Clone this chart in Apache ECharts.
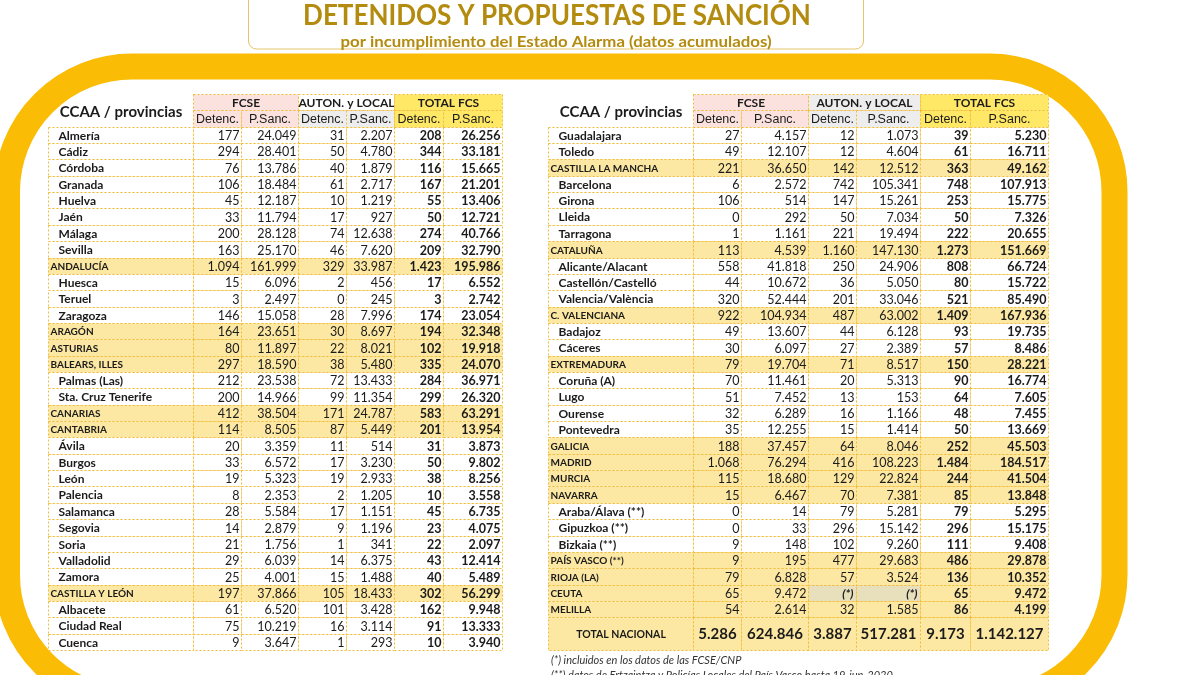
<!DOCTYPE html>
<html>
<head>
<meta charset="utf-8">
<title>Detenidos y propuestas de sanción</title>
<script src="https://cdn.jsdelivr.net/npm/echarts@6/dist/echarts.min.js"></script>
<style>
  html, body { margin: 0; background: #fff; }
  #main { width: 1200px; height: 675px; }
</style>
</head>
<body>
<div id="main"></div>
<script>
// ---- datos (tabla izquierda)
const leftNames = ['Almería', 'Cádiz', 'Córdoba', 'Granada', 'Huelva', 'Jaén', 'Málaga', 'Sevilla', 'ANDALUCÍA',
  'Huesca', 'Teruel', 'Zaragoza', 'ARAGÓN', 'ASTURIAS', 'BALEARS, ILLES', 'Palmas (Las)', 'Sta. Cruz Tenerife',
  'CANARIAS', 'CANTABRIA', 'Ávila', 'Burgos', 'León', 'Palencia', 'Salamanca', 'Segovia', 'Soria', 'Valladolid',
  'Zamora', 'CASTILLA Y LEÓN', 'Albacete', 'Ciudad Real', 'Cuenca'];
const leftFcseDet = [177, 294, 76, 106, 45, 33, 200, 163, 1094, 15, 3, 146, 164, 80, 297, 212, 200, 412, 114, 20, 33, 19, 8, 28, 14, 21, 29, 25, 197, 61, 75, 9];
const leftFcseSanc = [24049, 28401, 13786, 18484, 12187, 11794, 28128, 25170, 161999, 6096, 2497, 15058, 23651, 11897, 18590, 23538, 14966, 38504, 8505, 3359, 6572, 5323, 2353, 5584, 2879, 1756, 6039, 4001, 37866, 6520, 10219, 3647];
const leftAutDet = [31, 50, 40, 61, 10, 17, 74, 46, 329, 2, 0, 28, 30, 22, 38, 72, 99, 171, 87, 11, 17, 19, 2, 17, 9, 1, 14, 15, 105, 101, 16, 1];
const leftAutSanc = [2207, 4780, 1879, 2717, 1219, 927, 12638, 7620, 33987, 456, 245, 7996, 8697, 8021, 5480, 13433, 11354, 24787, 5449, 514, 3230, 2933, 1205, 1151, 1196, 341, 6375, 1488, 18433, 3428, 3114, 293];
const leftTotDet = [208, 344, 116, 167, 55, 50, 274, 209, 1423, 17, 3, 174, 194, 102, 335, 284, 299, 583, 201, 31, 50, 38, 10, 45, 23, 22, 43, 40, 302, 162, 91, 10];
const leftTotSanc = [26256, 33181, 15665, 21201, 13406, 12721, 40766, 32790, 195986, 6552, 2742, 23054, 32348, 19918, 24070, 36971, 26320, 63291, 13954, 3873, 9802, 8256, 3558, 6735, 4075, 2097, 12414, 5489, 56299, 9948, 13333, 3940];

// ---- datos (tabla derecha); null = "(*)"
const rightNames = ['Guadalajara', 'Toledo', 'CASTILLA LA MANCHA', 'Barcelona', 'Girona', 'Lleida', 'Tarragona', 'CATALUÑA',
  'Alicante/Alacant', 'Castellón/Castelló', 'Valencia/València', 'C. VALENCIANA', 'Badajoz', 'Cáceres', 'EXTREMADURA',
  'Coruña (A)', 'Lugo', 'Ourense', 'Pontevedra', 'GALICIA', 'MADRID', 'MURCIA', 'NAVARRA', 'Araba/Álava (**)',
  'Gipuzkoa (**)', 'Bizkaia (**)', 'PAÍS VASCO (**)', 'RIOJA (LA)', 'CEUTA', 'MELILLA'];
const rightFcseDet = [27, 49, 221, 6, 106, 0, 1, 113, 558, 44, 320, 922, 49, 30, 79, 70, 51, 32, 35, 188, 1068, 115, 15, 0, 0, 9, 9, 79, 65, 54];
const rightFcseSanc = [4157, 12107, 36650, 2572, 514, 292, 1161, 4539, 41818, 10672, 52444, 104934, 13607, 6097, 19704, 11461, 7452, 6289, 12255, 37457, 76294, 18680, 6467, 14, 33, 148, 195, 6828, 9472, 2614];
const rightAutDet = [12, 12, 142, 742, 147, 50, 221, 1160, 250, 36, 201, 487, 44, 27, 71, 20, 13, 16, 15, 64, 416, 129, 70, 79, 296, 102, 477, 57, null, 32];
const rightAutSanc = [1073, 4604, 12512, 105341, 15261, 7034, 19494, 147130, 24906, 5050, 33046, 63002, 6128, 2389, 8517, 5313, 153, 1166, 1414, 8046, 108223, 22824, 7381, 5281, 15142, 9260, 29683, 3524, null, 1585];
const rightTotDet = [39, 61, 363, 748, 253, 50, 222, 1273, 808, 80, 521, 1409, 93, 57, 150, 90, 64, 48, 50, 252, 1484, 244, 85, 79, 296, 111, 486, 136, 65, 86];
const rightTotSanc = [5230, 16711, 49162, 107913, 15775, 7326, 20655, 151669, 66724, 15722, 85490, 167936, 19735, 8486, 28221, 16774, 7605, 7455, 13669, 45503, 184517, 41504, 13848, 5295, 15175, 9408, 29878, 10352, 9472, 4199];

const totalLabel = 'TOTAL NACIONAL';
const totalNacional = [5286, 624846, 3887, 517281, 9173, 1142127];

const cornerLabel = 'CCAA / provincias';
const groupLabels = ['FCSE', 'AUTON. y LOCAL', 'TOTAL FCS'];
const subLabels = ['Detenc.', 'P.Sanc.'];
const titleText = 'DETENIDOS Y PROPUESTAS DE SANCIÓN';
const subtitleText = 'por incumplimiento del Estado Alarma (datos acumulados)';
const notes = ['(*) incluidos en los datos de las FCSE/CNP',
  '(**) datos de Ertzaintza y Policías Locales del País Vasco hasta 19-jun-2020'];

// ---- layout (bordes de columna en px dentro de cada grid)
const leftEdges = [0, 145, 193, 250, 298, 346, 395, 454];
const rightEdges = [0, 145, 193, 260, 308, 372, 422, 500];
const ROWS = 34; // 2 filas de cabecera + 32

const col = {
  border: '#f0bd3a', pink: '#fbe2de', grey: '#ededed', yellow: '#ffe866',
  ccaa: '#fce8a2', star: '#e8dfbd', text: '#1b1b1b', gold: '#fbbc05', title: '#b38b0e'
};
const FONT = 'Lato, "Noto Sans", sans-serif';
const NARROW = '"Liberation Sans Narrow", "Liberation Sans", Arial, sans-serif';

function fmt(n) {
  return n == null ? '(*)' : String(n).replace(/\B(?=(\d{3})+(?!\d))/g, '.');
}
const isCcaa = s => s === s.toUpperCase();

function buildCells(names, cols, groupFills, total) {
  const subFills = [col.pink, col.grey, col.yellow];
  const cells = [{ c0: 0, c1: 1, r0: 0, r1: 2, kind: 'corner', text: cornerLabel }];
  groupLabels.forEach((g, i) => {
    cells.push({ c0: 1 + 2 * i, c1: 3 + 2 * i, r0: 0, r1: 1, kind: 'grp', text: g, fill: groupFills[i] });
    subLabels.forEach((s, j) => {
      cells.push({ c0: 1 + 2 * i + j, c1: 2 + 2 * i + j, r0: 1, r1: 2, kind: 'sub', text: s, fill: subFills[i] });
    });
  });
  names.forEach((name, r) => {
    const cc = isCcaa(name);
    cells.push({ c0: 0, c1: 1, r0: r + 2, r1: r + 3, kind: cc ? 'cname' : 'name', text: name });
    cols.forEach((arr, c) => {
      const v = arr[r];
      cells.push({ c0: c + 1, c1: c + 2, r0: r + 2, r1: r + 3, kind: v == null ? 'star' : 'num',
        text: fmt(v), bold: c >= 4, cc: cc });
    });
  });
  if (total) {
    const r = names.length + 2;
    cells.push({ c0: 0, c1: 1, r0: r, r1: r + 2, kind: 'tname', text: totalLabel });
    total.forEach((v, c) => {
      cells.push({ c0: c + 1, c1: c + 2, r0: r, r1: r + 2, kind: 'tnum', text: fmt(v) });
    });
  }
  return cells;
}

function renderer(cells, edges) {
  return function (params, api) {
    const d = cells[params.dataIndex];
    const p0 = api.coord([api.value(0), api.value(1)]);
    const p1 = api.coord([edges[d.c1], d.r1]);
    const x = Math.round(p0[0]) + 0.5, y = Math.round(p0[1]) + 0.5;
    const w = Math.round(p1[0]) - Math.round(p0[0]);
    const h = Math.round(p1[1]) - Math.round(p0[1]);
    const cy = y + h / 2;
    const children = [];
    let fill = '#fff';
    if (d.kind === 'grp' || d.kind === 'sub') fill = d.fill;
    else if (d.kind === 'cname' || d.kind === 'tname' || d.kind === 'tnum' || (d.kind === 'num' && d.cc)) fill = col.ccaa;
    else if (d.kind === 'star') fill = col.star;
    if (d.kind !== 'corner') {
      children.push({
        type: 'rect', shape: { x: x, y: y, width: w, height: h },
        style: { fill: fill, stroke: col.border, lineWidth: 1, lineDash: [2, 2] }
      });
    }
    let ts = { text: d.text, fill: col.text, verticalAlign: 'middle', fontFamily: FONT, fontSize: 12, fontWeight: 'normal', x: x + w / 2, y: cy + 0.5, align: 'center' };
    switch (d.kind) {
      case 'corner': ts.fontSize = 15; ts.fontWeight = 'bold'; ts.y = cy + 1; break;
      case 'grp': ts.fontSize = 12; ts.fontWeight = 'bold'; break;
      case 'sub': ts.fontFamily = NARROW; ts.fontSize = 12.5; break;
      case 'name': ts.fontSize = 12; ts.fontWeight = 'bold'; ts.align = 'left'; ts.x = x + 10; break;
      case 'cname': ts.fontSize = 10; ts.fontWeight = 'bold'; ts.align = 'left'; ts.x = x + 2; break;
      case 'num': ts.fontSize = 12.5; ts.fontWeight = d.bold ? 'bold' : 'normal'; ts.align = 'right'; ts.x = x + w - 2; break;
      case 'star': ts.fontSize = 12; ts.fontWeight = 'bold'; ts.fontStyle = 'italic'; ts.align = 'right'; ts.x = x + w - 3; break;
      case 'tname': ts.fontSize = 10.5; ts.fontWeight = 'bold'; break;
      case 'tnum': ts.fontSize = 15; ts.fontWeight = 'bold'; break;
    }
    children.push({ type: 'text', style: ts });
    return { type: 'group', children: children };
  };
}

const leftCells = buildCells(leftNames,
  [leftFcseDet, leftFcseSanc, leftAutDet, leftAutSanc, leftTotDet, leftTotSanc],
  [col.pink, '#fff', col.yellow], null);
const rightCells = buildCells(rightNames,
  [rightFcseDet, rightFcseSanc, rightAutDet, rightAutSanc, rightTotDet, rightTotSanc],
  [col.pink, col.grey, col.yellow], totalNacional);

const chart = echarts.init(document.getElementById('main'));
chart.setOption({
  animation: false,
  backgroundColor: '#fff',
  grid: [
    { left: 48, top: 94, width: 454, height: 556 },
    { left: 548, top: 94, width: 500, height: 556 }
  ],
  xAxis: [
    { type: 'value', gridIndex: 0, min: 0, max: 454, show: false },
    { type: 'value', gridIndex: 1, min: 0, max: 500, show: false }
  ],
  yAxis: [
    { type: 'value', gridIndex: 0, min: 0, max: ROWS, inverse: true, show: false },
    { type: 'value', gridIndex: 1, min: 0, max: ROWS, inverse: true, show: false }
  ],
  graphic: [
    {
      type: 'rect', z: 0, silent: true,
      shape: { x: 7, y: 66.5, width: 1107.5, height: 633.5, r: 125 },
      style: { fill: null, stroke: col.gold, lineWidth: 26 }
    },
    {
      type: 'rect', z: 1, silent: true,
      shape: { x: 248.5, y: -10, width: 615, height: 59, r: 8 },
      style: { fill: '#fff', stroke: '#e6c467', lineWidth: 1 }
    },
    {
      type: 'text', z: 2, silent: true, x: 557, y: 16, scaleX: 0.93,
      style: { text: titleText, x: 0, y: 0, align: 'center', verticalAlign: 'middle',
        fontFamily: FONT, fontSize: 28, fontWeight: 'bold', fill: col.title }
    },
    {
      type: 'text', z: 2, silent: true, x: 556, y: 42, scaleX: 1.05,
      style: { text: subtitleText, x: 0, y: 0, align: 'center', verticalAlign: 'middle',
        fontFamily: FONT, fontSize: 16, fontWeight: 'bold', fill: col.title }
    },
    {
      type: 'text', z: 2, silent: true,
      style: { text: notes[0], x: 551, y: 660, verticalAlign: 'middle',
        fontFamily: FONT, fontSize: 11, fontStyle: 'italic', fill: '#333' }
    },
    {
      type: 'text', z: 2, silent: true,
      style: { text: notes[1], x: 551, y: 675, verticalAlign: 'middle',
        fontFamily: FONT, fontSize: 11, fontStyle: 'italic', fill: '#333' }
    }
  ],
  series: [
    {
      type: 'custom', xAxisIndex: 0, yAxisIndex: 0, clip: false,
      renderItem: renderer(leftCells, leftEdges),
      data: leftCells.map(d => [leftEdges[d.c0], d.r0])
    },
    {
      type: 'custom', xAxisIndex: 1, yAxisIndex: 1, clip: false,
      renderItem: renderer(rightCells, rightEdges),
      data: rightCells.map(d => [rightEdges[d.c0], d.r0])
    }
  ]
});
</script>
</body>
</html>
